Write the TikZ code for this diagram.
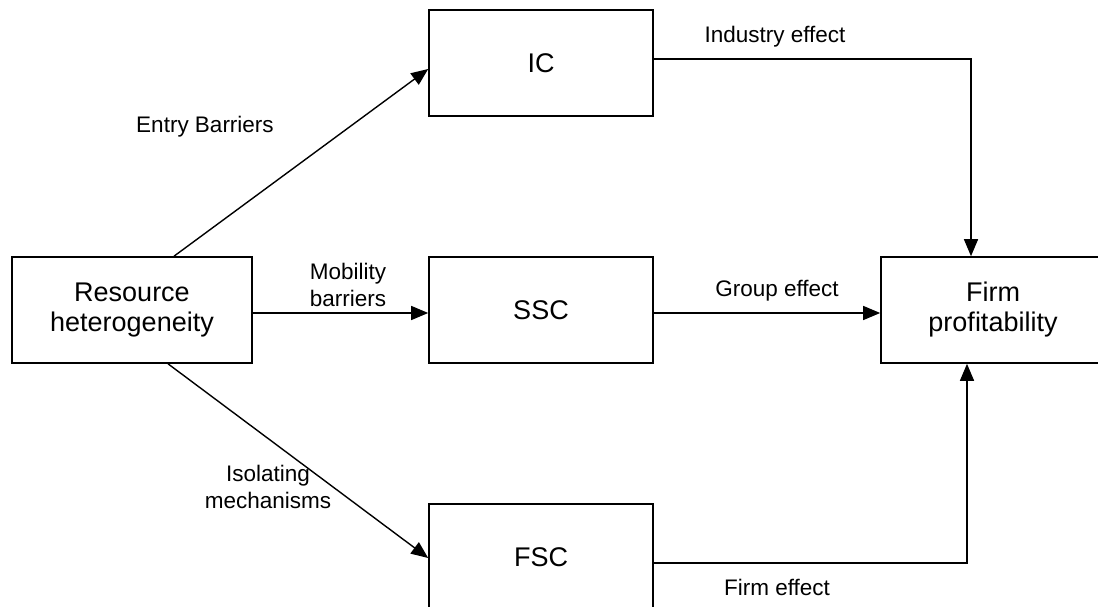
\documentclass[tikz,border=0pt]{standalone}
\usepackage{fontspec}
\setmainfont{Liberation Sans}
\usetikzlibrary{arrows.meta,calc}
\tikzset{
  box/.style={draw, line width=1.6pt, minimum width=224pt, minimum height=106pt, inner sep=0pt, align=center, font=\fontsize{27}{30}\selectfont},
  conn/.style={line width=1.4pt},
  arr/.style={conn, -{Triangle[length=17pt,width=14pt]}},
  lbl/.style={align=center, inner sep=0pt, font=\fontsize{22.5}{27}\selectfont}
}
\begin{document}
\begin{tikzpicture}[x=1pt,y=-1pt]
\useasboundingbox (0,0) rectangle (1098,607);
\clip (0,0) rectangle (1098,607);
\node[box, minimum width=240pt] (rh) at (132,310) {Resource\\heterogeneity};
\node[box] (ic) at (541,63) {IC};
\node[box] (ssc) at (541,310) {SSC};
\node[box] (fsc) at (541,557) {FSC};
\node[box] (fp) at (993,310) {Firm\\profitability};

\draw[arr] ([xshift=42pt]rh.north) -- ([yshift=-6pt]ic.west);
\draw[arr] ([yshift=-3pt]rh.east) -- ([yshift=-3pt]ssc.west);
\draw[arr] ([xshift=36pt]rh.south) -- ([yshift=-1pt]fsc.west);
\draw[arr] ([yshift=4pt]ic.east) -| ([xshift=-22pt]fp.north);
\draw[arr] ([yshift=-3pt]ssc.east) -- ([yshift=-3pt]fp.west);
\draw[arr] ([yshift=-6pt]fsc.east) -| ([xshift=-26pt]fp.south);

\node[lbl] (l1) at (205,127) {Entry Barriers};
\node[lbl] (l2) at (348,285) {Mobility\\barriers};
\node[lbl] (l3) at (268,487) {Isolating\\mechanisms};
\node[lbl] (l4) at (775,37) {Industry effect};
\node[lbl] (l5) at (777,291) {Group effect};
\node[lbl] (l6) at (777,587) {Firm effect};
\end{tikzpicture}
\end{document}
